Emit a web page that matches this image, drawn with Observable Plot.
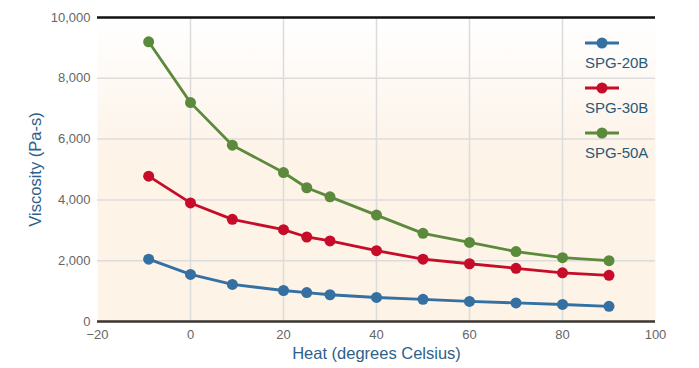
<!DOCTYPE html>
<html><head><meta charset="utf-8">
<script src="https://cdn.jsdelivr.net/npm/d3@7"></script>
<script src="https://cdn.jsdelivr.net/npm/@observablehq/plot@0.6"></script>
<style>
body{margin:0;background:#fff;font-family:"Liberation Sans",Arial,sans-serif;}
#wrap{position:relative;width:699px;height:368px;}
#legend{position:absolute;left:585px;top:37px;font-size:15px;line-height:17px;color:#2b5877;}
#legend .item{height:45px;}
</style>
</head><body>
<div id="wrap"><div id="chart"></div><div id="legend"></div></div>
<script>
const heat = [-9, 0, 9, 20, 25, 30, 40, 50, 60, 70, 80, 90];
const spg20B = [2050, 1550, 1220, 1020, 950, 880, 790, 730, 660, 610, 560, 500];
const spg30B = [4780, 3900, 3360, 3020, 2780, 2650, 2330, 2050, 1900, 1750, 1600, 1520];
const spg50A = [9200, 7200, 5800, 4900, 4400, 4100, 3500, 2900, 2600, 2300, 2100, 2000];
const seriesNames = ["SPG-20B", "SPG-30B", "SPG-50A"];
const seriesColors = ["#3470a2", "#c70c29", "#5c8a3c"];
const xTicks = [-20, 0, 20, 40, 60, 80, 100];
const yTicks = [0, 2000, 4000, 6000, 8000, 10000];

const allSeries = [spg20B, spg30B, spg50A];
const data = [];
allSeries.forEach((vals, s) => vals.forEach((v, i) => data.push({series: seriesNames[s], heat: heat[i], value: v})));

const chart = Plot.plot({
  width: 699, height: 368,
  marginLeft: 97, marginRight: 44, marginTop: 17, marginBottom: 47,
  style: {fontFamily: '"Liberation Sans", Arial, sans-serif', fontSize: "13px", color: "#555", background: "transparent"},
  x: {domain: [-20, 100], ticks: xTicks, tickSize: 0, tickPadding: 6, label: null},
  y: {domain: [0, 10000], ticks: yTicks, tickSize: 0, tickPadding: 6, tickFormat: d3.format(","), label: null},
  color: {domain: seriesNames, range: seriesColors},
  marks: [
    Plot.frame({fill: "url(#bggrad)", stroke: null}),
    Plot.gridX(xTicks.slice(1, -1), {stroke: "#dcdcdc", strokeOpacity: 1, strokeWidth: 1.5}),
    Plot.gridY(yTicks.slice(1, -1), {stroke: "#dcdcdc", strokeOpacity: 1, strokeWidth: 1.5}),
    Plot.ruleY([10000], {stroke: "#111", strokeWidth: 2.5}),
    Plot.ruleY([0], {stroke: "#3a3530", strokeWidth: 2.5}),
    Plot.line(data, {x: "heat", y: "value", stroke: "series", z: "series", strokeWidth: 2.8}),
    Plot.dot(data, {x: "heat", y: "value", fill: "series", r: 5.5}),
    Plot.axisX({ticks: xTicks, tickSize: 0, tickPadding: 8, label: null, fill: "#666"}),
    Plot.axisY({ticks: yTicks, tickSize: 0, tickPadding: 7, tickFormat: d3.format(","), label: null, fill: "#666"}),
    Plot.text(["Heat (degrees Celsius)"], {frameAnchor: "bottom", dy: 37, fill: "#2e618a", fontSize: 16.5}),
    Plot.text(["Viscosity (Pa-s)"], {frameAnchor: "left", textAnchor: "middle", dx: -62, rotate: -90, fill: "#2e618a", fontSize: 16.5})
  ]
});
const ns = "http://www.w3.org/2000/svg";
const defs = document.createElementNS(ns, "defs");
defs.innerHTML = '<linearGradient id="bggrad" x1="0" y1="0" x2="0" y2="1"><stop offset="0" stop-color="#ffffff"/><stop offset="0.45" stop-color="#fdf3e8"/><stop offset="1" stop-color="#fdf3e6"/></linearGradient>';
chart.insertBefore(defs, chart.firstChild);
document.getElementById("chart").appendChild(chart);

const lg = d3.select("#legend");
seriesNames.forEach((n, i) => {
  const it = lg.append("div").attr("class", "item");
  const s = it.append("svg").attr("width", 36).attr("height", 12).style("display", "block");
  s.append("line").attr("x1", 0).attr("x2", 34).attr("y1", 6).attr("y2", 6).attr("stroke", seriesColors[i]).attr("stroke-width", 2.8);
  s.append("circle").attr("cx", 17).attr("cy", 6).attr("r", 5.5).attr("fill", seriesColors[i]);
  it.append("div").text(n).style("margin-top", "5px");
});
</script>
</body></html>
